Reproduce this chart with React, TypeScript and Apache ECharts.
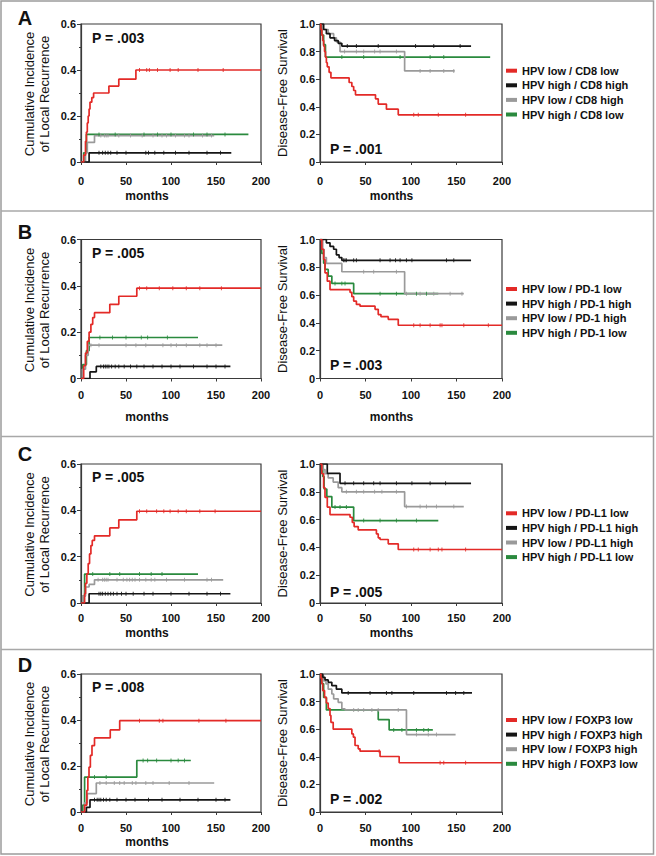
import React, { useEffect, useRef } from "react";
import * as echarts from "echarts";

type Pt = [number, number];

// ---------------- DATA ----------------
const xTicks = [0, 50, 100, 150, 200];

// Panel A (CD8)
const labelsA = ["HPV low / CD8 low", "HPV high / CD8 high", "HPV low / CD8 high", "HPV high / CD8 low"];
const aCiRed: Pt[] = [[0, 0], [3, 0.03], [5, 0.09], [6, 0.13], [7, 0.17], [8, 0.2], [9, 0.23], [10, 0.26], [12, 0.28], [14, 0.3], [31, 0.33], [42, 0.36], [61, 0.4], [200, 0.4]];
const aCiBlack: Pt[] = [[0, 0], [9, 0.04], [167, 0.04]];
const aCiGray: Pt[] = [[0, 0], [5, 0.04], [7, 0.085], [15, 0.115], [148, 0.115]];
const aCiGreen: Pt[] = [[0, 0], [3, 0.04], [6, 0.12], [186, 0.12]];
const aCiRedCens = [65, 73, 76, 85, 99, 108, 130, 158];
const aCiBlackCens = [20, 24, 27, 30, 33, 40, 50, 72, 75, 82, 92, 105, 120, 140, 155];
const aCiGrayCens = [22, 26, 28, 30, 42, 55, 68, 80, 90, 95, 105, 115, 120, 135, 145];
const aCiGreenCens = [20, 38, 70, 85, 100, 125, 140, 160];
const aDfsRed: Pt[] = [[0, 1], [1, 0.96], [2, 0.92], [3, 0.88], [4, 0.84], [5, 0.8], [6, 0.76], [7, 0.72], [8, 0.69], [10, 0.65], [12, 0.61], [32, 0.576], [35, 0.547], [37, 0.518], [39, 0.487], [61, 0.458], [64, 0.42], [73, 0.383], [86, 0.342], [200, 0.342]];
const aDfsBlack: Pt[] = [[0, 1], [4, 0.96], [7, 0.93], [11, 0.9], [16, 0.88], [20, 0.86], [24, 0.84], [166, 0.84]];
const aDfsGray: Pt[] = [[0, 1], [3, 0.96], [9, 0.93], [15, 0.9], [18, 0.87], [22, 0.8], [93, 0.66], [148, 0.66]];
const aDfsGreen: Pt[] = [[0, 1], [2, 0.92], [4, 0.85], [6, 0.76], [187, 0.76]];
const aDfsRedCens = [103, 108, 130, 160];
const aDfsBlackCens = [30, 40, 64, 105, 125, 154];
const aDfsGrayCens = [27, 40, 48, 60, 66, 84, 110, 121, 136, 147];
const aDfsGreenCens = [24, 48, 88, 121, 136];

// Panel B (PD-1)
const labelsB = ["HPV low / PD-1 low", "HPV high / PD-1 high", "HPV low / PD-1 high", "HPV high / PD-1 low"];
const bCiRed: Pt[] = [[0, 0], [3, 0.055], [5, 0.11], [7, 0.16], [9, 0.2], [11, 0.234], [13, 0.263], [15, 0.284], [32, 0.32], [42, 0.355], [62, 0.39], [200, 0.39]];
const bCiBlack: Pt[] = [[0, 0], [10, 0.029], [17, 0.052], [166, 0.052]];
const bCiGray: Pt[] = [[0, 0], [1.5, 0.04], [5, 0.1], [8, 0.144], [157, 0.144]];
const bCiGreen: Pt[] = [[0, 0], [2, 0.06], [6, 0.12], [9, 0.177], [130, 0.177]];
const bCiRedCens = [65, 73, 87, 102, 117, 132, 156];
const bCiBlackCens = [22, 25, 27, 29, 31, 34, 38, 42, 48, 55, 62, 70, 80, 90, 100, 110, 125, 140, 150, 160];
const bCiGrayCens = [11, 20, 50, 61, 72, 91, 100, 106, 117, 132, 140, 150];
const bCiGreenCens = [21, 35, 50, 67, 74, 96];
const bDfsRed: Pt[] = [[0, 1], [2, 0.93], [4, 0.856], [5.5, 0.76], [8, 0.7], [11, 0.64], [33, 0.62], [35, 0.589], [37, 0.557], [40, 0.533], [44, 0.52], [60.5, 0.498], [64, 0.46], [67, 0.445], [75, 0.426], [86, 0.383], [200, 0.383]];
const bDfsBlack: Pt[] = [[0, 1], [7, 0.976], [11, 0.95], [15, 0.93], [18, 0.89], [21, 0.87], [24, 0.85], [166, 0.85]];
const bDfsGray: Pt[] = [[0, 1], [3, 0.93], [4.5, 0.87], [7, 0.828], [24, 0.768], [93, 0.61], [158, 0.61]];
const bDfsGreen: Pt[] = [[0, 1], [2, 0.9], [4, 0.83], [5.5, 0.785], [9, 0.737], [13, 0.684], [37, 0.61], [130, 0.61]];
const bDfsRedCens = [103, 110, 121, 132, 134, 158, 185];
const bDfsBlackCens = [26, 27.5, 29, 37, 40, 66, 77, 83, 88, 95, 101, 139, 147];
const bDfsGrayCens = [48, 59, 84, 95, 110, 125, 143, 156];
const bDfsGreenCens = [16.5, 24, 27.5, 66, 84, 106, 117];

// Panel C (PD-L1)
const labelsC = ["HPV low / PD-L1 low", "HPV high / PD-L1 high", "HPV low / PD-L1 high", "HPV high / PD-L1 low"];
const cCiRed: Pt[] = [[0, 0], [4, 0.04], [5, 0.085], [6.5, 0.126], [8, 0.17], [9.5, 0.212], [11, 0.248], [12.5, 0.27], [15, 0.29], [32, 0.324], [42, 0.359], [62, 0.396], [200, 0.396]];
const cCiBlack: Pt[] = [[0, 0], [9, 0.04], [166, 0.04]];
const cCiGray: Pt[] = [[0, 0], [2, 0.03], [5, 0.069], [9, 0.08], [15, 0.1], [158, 0.1]];
const cCiGreen: Pt[] = [[0, 0], [2, 0.03], [4, 0.125], [130, 0.125]];
const cCiRedCens = [65, 73, 84, 92, 99, 108, 117, 132, 149];
const cCiBlackCens = [20, 22, 24, 27, 30, 33, 36, 40, 45, 50, 58, 70, 80, 100, 120, 140, 155];
const cCiGrayCens = [19, 24, 26, 28, 30, 40, 47, 51, 54, 57, 60, 65, 72, 78, 82, 95, 115, 140, 145];
const cCiGreenCens = [13, 32, 43, 65, 78, 90];
const cDfsRed: Pt[] = [[0, 1], [2, 0.93], [4, 0.83], [5.5, 0.76], [8, 0.69], [11, 0.636], [33, 0.617], [35.5, 0.58], [37.5, 0.55], [42, 0.526], [62, 0.497], [64, 0.469], [66, 0.457], [75, 0.426], [86, 0.385], [200, 0.385]];
const cDfsBlack: Pt[] = [[0, 1], [8, 0.933], [22, 0.861], [166, 0.861]];
const cDfsGray: Pt[] = [[0, 1], [3, 0.96], [5.5, 0.93], [9, 0.9], [14.5, 0.87], [20, 0.83], [24, 0.8], [93, 0.694], [158, 0.694]];
const cDfsGreen: Pt[] = [[0, 1], [3, 0.91], [4.5, 0.82], [7.5, 0.766], [13, 0.69], [37, 0.593], [130, 0.593]];
const cDfsRedCens = [103, 108, 121, 130, 134, 160];
const cDfsBlackCens = [27.5, 37, 48, 59, 66, 84, 101, 121, 138];
const cDfsGrayCens = [29, 40, 48, 60, 68, 84, 95, 110, 117, 128, 147];
const cDfsGreenCens = [16.5, 22, 29, 48, 66, 84, 106];

// Panel D (FOXP3)
const labelsD = ["HPV low / FOXP3 low", "HPV high / FOXP3 high", "HPV low / FOXP3 high", "HPV high / FOXP3 low"];
const dCiRed: Pt[] = [[0, 0], [4, 0.03], [6.5, 0.094], [7.6, 0.152], [8.9, 0.195], [10.4, 0.246], [12.2, 0.289], [15, 0.322], [32.5, 0.357], [43, 0.397], [200, 0.397]];
const dCiBlack: Pt[] = [[0, 0], [6, 0.02], [10, 0.053], [166, 0.053]];
const dCiGray: Pt[] = [[0, 0], [4, 0.04], [7, 0.08], [17, 0.126], [148, 0.126]];
const dCiGreen: Pt[] = [[0, 0], [2, 0.03], [4, 0.152], [62, 0.224], [122, 0.224]];
const dCiRedCens = [65, 87, 91, 131, 161];
const dCiBlackCens = [15, 18, 20, 22, 25, 28, 32, 40, 50, 60, 75, 90, 110, 130, 150, 160];
const dCiGrayCens = [21, 28, 37, 43, 48, 57, 61, 72, 80, 98, 120];
const dCiGreenCens = [15, 28, 69, 74, 84, 100, 108, 115];
const dDfsRed: Pt[] = [[0, 1], [1, 0.97], [2, 0.93], [3, 0.88], [5, 0.83], [7, 0.79], [9, 0.75], [11, 0.7], [12, 0.65], [14.5, 0.6], [35, 0.566], [36.7, 0.542], [38.5, 0.482], [42, 0.458], [44, 0.441], [66, 0.402], [87, 0.357], [200, 0.357]];
const dDfsBlack: Pt[] = [[0, 1], [3, 0.976], [5.5, 0.957], [9, 0.94], [13, 0.916], [18, 0.89], [24, 0.863], [167, 0.863]];
const dDfsGray: Pt[] = [[0, 1], [3.7, 0.95], [6.6, 0.928], [9, 0.89], [13, 0.855], [15, 0.82], [20, 0.795], [24, 0.747], [27.5, 0.74], [95, 0.561], [149, 0.561]];
const dDfsGreen: Pt[] = [[0, 1], [2, 0.93], [4, 0.83], [7, 0.74], [64, 0.67], [76, 0.595], [124, 0.595]];
const dDfsRedCens = [65, 132, 136, 160];
const dDfsBlackCens = [31, 55, 73, 79, 103, 139, 149, 158];
const dDfsGrayCens = [37, 42, 48, 57, 64, 86, 106, 119, 128];
const dDfsGreenCens = [81, 90, 106, 114, 119];

const pValues = [
  ["P = .003", "P = .001"],
  ["P = .005", "P = .003"],
  ["P = .005", "P = .005"],
  ["P = .008", "P = .002"],
];
const letters = ["A", "B", "C", "D"];

// ---------------- STYLE / LAYOUT ----------------
const FONT = '"Liberation Sans", Arial, Helvetica, sans-serif';
const COLORS = ["#e32a27", "#151515", "#9a9a9a", "#2a8a3e"]; // red, black, gray, green
const DRAW_ORDER = [3, 2, 1, 0];

const panels = [
  { labels: labelsA, ci: [aCiRed, aCiBlack, aCiGray, aCiGreen], ciCens: [aCiRedCens, aCiBlackCens, aCiGrayCens, aCiGreenCens], dfs: [aDfsRed, aDfsBlack, aDfsGray, aDfsGreen], dfsCens: [aDfsRedCens, aDfsBlackCens, aDfsGrayCens, aDfsGreenCens] },
  { labels: labelsB, ci: [bCiRed, bCiBlack, bCiGray, bCiGreen], ciCens: [bCiRedCens, bCiBlackCens, bCiGrayCens, bCiGreenCens], dfs: [bDfsRed, bDfsBlack, bDfsGray, bDfsGreen], dfsCens: [bDfsRedCens, bDfsBlackCens, bDfsGrayCens, bDfsGreenCens] },
  { labels: labelsC, ci: [cCiRed, cCiBlack, cCiGray, cCiGreen], ciCens: [cCiRedCens, cCiBlackCens, cCiGrayCens, cCiGreenCens], dfs: [cDfsRed, cDfsBlack, cDfsGray, cDfsGreen], dfsCens: [cDfsRedCens, cDfsBlackCens, cDfsGrayCens, cDfsGreenCens] },
  { labels: labelsD, ci: [dCiRed, dCiBlack, dCiGray, dCiGreen], ciCens: [dCiRedCens, dCiBlackCens, dCiGrayCens, dCiGreenCens], dfs: [dDfsRed, dDfsBlack, dDfsGray, dDfsGreen], dfsCens: [dDfsRedCens, dDfsBlackCens, dDfsGrayCens, dDfsGreenCens] },
];

const layout = [
  { top: 24, h: 138, letterY: 18, monthsY: 196, xMargin: 13, legendTop: 63.4, pCiY: 38, pDfsY: 149 },
  { top: 239.5, h: 139, letterY: 232, monthsY: 417, xMargin: 10.5, legendTop: 281.7, pCiY: 253.3, pDfsY: 365 },
  { top: 464, h: 139, letterY: 454, monthsY: 633, xMargin: 9.5, legendTop: 506, pCiY: 477.3, pDfsY: 591.7 },
  { top: 674, h: 138, letterY: 665, monthsY: 842, xMargin: 10, legendTop: 712.7, pCiY: 687.3, pDfsY: 799.3 },
];
const separators = [211, 436.5, 649.5];
const LEFT_X = 81;
const LEFT_W = 180;
const RIGHT_X = 320;
const RIGHT_W = 182;

function stepAt(curve: Pt[], t: number): number {
  let v = curve[0][1];
  for (const [x, y] of curve) {
    if (x <= t) v = y;
    else break;
  }
  return v;
}

const yFmt = (v: number) => (v === 0 ? "0" : v.toFixed(1));

function txt(text: string, x: number, y: number, size: number, weight: string, align = "left", rotation = 0, lineHeight?: number) {
  return {
    type: "text",
    x,
    y,
    rotation,
    silent: true,
    style: {
      text,
      fontSize: size,
      fontWeight: weight,
      fontFamily: FONT,
      fill: "#111",
      align,
      textAlign: align,
      verticalAlign: "middle",
      textVerticalAlign: "middle",
      lineHeight,
    },
  };
}

function buildOption() {
  const grid: any[] = [];
  const xAxis: any[] = [];
  const yAxis: any[] = [];
  const series: any[] = [];
  const legend: any[] = [];
  const graphic: any[] = [];

  graphic.push({
    type: "rect",
    silent: true,
    shape: { x: 1, y: 1, width: 652.5, height: 853 },
    style: { fill: "none", stroke: "#9c9c9c", lineWidth: 1.5 },
  });
  separators.forEach((y) =>
    graphic.push({ type: "line", silent: true, shape: { x1: 1, y1: y, x2: 653.5, y2: y }, style: { stroke: "#a8a8a8", lineWidth: 1.5 } })
  );

  panels.forEach((p, i) => {
    const L = layout[i];
    const plots = [
      { x: LEFT_X, w: LEFT_W, max: 0.6, curves: p.ci, cens: p.ciCens, minor: true },
      { x: RIGHT_X, w: RIGHT_W, max: 1, curves: p.dfs, cens: p.dfsCens, minor: false },
    ];
    plots.forEach((pl, j) => {
      const gi = i * 2 + j;
      grid.push({ left: pl.x, top: L.top, width: pl.w, height: L.h, show: true, borderColor: "#3a3a3a", borderWidth: 1.2, backgroundColor: "transparent", outerBoundsMode: "none" });
      xAxis.push({
        type: "value",
        gridIndex: gi,
        min: 0,
        max: 200,
        interval: 50,
        axisLine: { show: true, lineStyle: { color: "#3a3a3a", width: 1.2 } },
        axisTick: { show: true, inside: false, length: 3, lineStyle: { color: "#3a3a3a" } },
        axisLabel: { show: true, margin: L.xMargin, fontSize: 11, fontWeight: "bold", fontFamily: FONT, color: "#111" },
        splitLine: { show: false },
      });
      yAxis.push({
        type: "value",
        gridIndex: gi,
        min: 0,
        max: pl.max,
        interval: 0.2,
        axisLine: { show: true, lineStyle: { color: "#3a3a3a", width: 1.2 } },
        axisTick: { show: true, inside: false, length: 4, lineStyle: { color: "#3a3a3a" } },
        minorTick: { show: pl.minor, splitNumber: 2, length: 2, lineStyle: { color: "#3a3a3a" } },
        axisLabel: { show: true, margin: 5, fontSize: 11, fontWeight: "bold", fontFamily: FONT, color: "#111", formatter: yFmt },
        splitLine: { show: false },
      });
      DRAW_ORDER.forEach((k) => {
        const curve = pl.curves[k];
        series.push({
          type: "line",
          name: p.labels[k],
          xAxisIndex: gi,
          yAxisIndex: gi,
          data: curve,
          step: "end",
          showSymbol: false,
          symbol: "none",
          lineStyle: { color: COLORS[k], width: 1.7 },
          itemStyle: { color: COLORS[k] },
          silent: true,
          z: 2,
        });
        series.push({
          type: "scatter",
          name: p.labels[k] + " (censored)",
          xAxisIndex: gi,
          yAxisIndex: gi,
          data: pl.cens[k].map((t) => [t, stepAt(curve, t)]),
          symbol: "rect",
          symbolSize: [1, 4],
          itemStyle: { color: COLORS[k], opacity: 0.85 },
          silent: true,
          z: 3,
        });
      });
    });

    legend.push({
      data: p.labels.map((n) => ({ name: n, icon: "rect" })),
      orient: "vertical",
      left: 506,
      top: L.legendTop,
      itemWidth: 11,
      itemHeight: 4,
      itemGap: 0,
      padding: 0,
      selectedMode: false,
      textStyle: { fontSize: 11, fontWeight: "bold", fontFamily: FONT, color: "#111", lineHeight: 14.6 },
    });

    const mid = L.top + L.h / 2;
    graphic.push(txt(letters[i], 25, L.letterY, 20, "bold", "center"));
    graphic.push(txt(pValues[i][0], 92, L.pCiY, 14, "bold", "left"));
    graphic.push(txt(pValues[i][1], 330, L.pDfsY, 14, "bold", "left"));
    graphic.push(txt("Cumulative Incidence\nof Local Recurrence", 37, mid + 1, 13, "normal", "center", Math.PI / 2, 15.7));
    graphic.push(txt("Disease-Free Survival", 282.5, mid, 13, "normal", "center", Math.PI / 2));
    graphic.push(txt("months", 147, L.monthsY, 12, "bold", "center"));
    graphic.push(txt("months", 391.5, L.monthsY, 12, "bold", "center"));
  });

  return { animation: false, backgroundColor: "#ffffff", grid, xAxis, yAxis, series, legend, graphic };
}

export default function App() {
  const ref = useRef<HTMLDivElement>(null);
  useEffect(() => {
    document.body.style.margin = "0";
    if (!ref.current) return;
    const chart = echarts.init(ref.current, undefined, { renderer: "svg" });
    chart.setOption(buildOption() as any);
    return () => chart.dispose();
  }, []);
  return <div ref={ref} style={{ position: "absolute", left: 0, top: 0, width: 656, height: 856 }} />;
}
